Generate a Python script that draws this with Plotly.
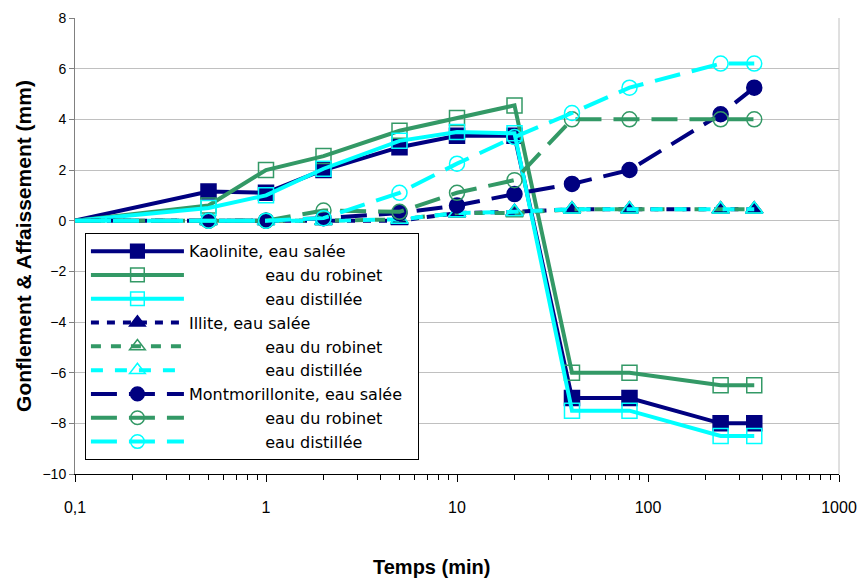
import plotly.graph_objects as go

# ---- data ----
temps = [0.1, 0.5, 1, 2, 5, 10, 20, 40, 80, 240, 360]

kao_salee = [0, 1.15, 1.1, 2.0, 2.9, 3.35, 3.35, -7.0, -7.0, -8.0, -8.0]
kao_robinet = [0, 0.6, 2.0, 2.55, 3.55, 4.05, 4.55, -6.0, -6.0, -6.5, -6.5]
kao_distillee = [0, 0.5, 1.0, 2.05, 3.15, 3.5, 3.45, -7.5, -7.5, -8.5, -8.5]

ill_salee = [0, 0, 0, 0, 0, 0.3, 0.35, 0.45, 0.45, 0.45, 0.45]
ill_robinet = [0, 0, 0, 0, 0.05, 0.3, 0.3, 0.45, 0.45, 0.45, 0.45]
ill_distillee = [0, 0, 0, 0, 0.05, 0.3, 0.35, 0.45, 0.45, 0.45, 0.45]

mont_salee = [0, 0, 0, 0.1, 0.3, 0.6, 1.05, 1.45, 2.0, 4.2, 5.25]
mont_robinet = [0, 0, 0, 0.4, 0.35, 1.1, 1.6, 4.0, 4.0, 4.0, 4.0]
mont_distillee = [0, 0, 0, 0.1, 1.1, 2.25, 3.3, 4.25, 5.25, 6.2, 6.2]

x_tickvals = [0.1, 1, 10, 100, 1000]
x_ticktext = ["0,1", "1", "10", "100", "1000"]
x_minor = [m * d for d in (0.1, 1, 10, 100) for m in range(2, 10)]

NAVY = "#000080"
GREEN = "#339966"
CYAN = "#00FFFF"
NB = "\u00a0"
IND = NB * 15
FONT = "Liberation Sans, Arial, sans-serif"
LEGFONT = "DejaVu Sans, sans-serif"

series = [
    ("Kaolinite, eau salée", kao_salee, NAVY, "square", "solid"),
    (IND + "eau du robinet", kao_robinet, GREEN, "square-open", "solid"),
    (IND + "eau distillée", kao_distillee, CYAN, "square-open", "solid"),
    ("Illite, eau salée", ill_salee, NAVY, "triangle-up", "8px,8px"),
    (IND + "eau du robinet", ill_robinet, GREEN, "triangle-up-open", "10px,10px"),
    (IND + "eau distillée", ill_distillee, CYAN, "triangle-up-open", "12px,12px"),
    ("Montmorillonite, eau salée" + NB * 2, mont_salee, NAVY, "circle", "26px,12px"),
    (IND + "eau du robinet", mont_robinet, GREEN, "circle-open", "26px,12px"),
    (IND + "eau distillée", mont_distillee, CYAN, "circle-open", "26px,12px"),
]

# no marker drawn at the starting point (0,1 ; 0)
sizes = [0] + [15] * (len(temps) - 1)

fig = go.Figure()
for name, ys, col, sym, dash in series:
    fig.add_trace(go.Scatter(
        x=temps, y=ys, name=name, mode="lines+markers",
        line=dict(color=col, width=4, dash=dash),
        marker=dict(symbol=sym, size=sizes, color=col, opacity=1,
                    line=dict(color=col, width=1.5)),
    ))

fig.update_layout(
    width=862, height=582,
    margin=dict(l=75, r=23, t=18, b=108),
    paper_bgcolor="white", plot_bgcolor="white",
    font=dict(family=FONT, size=14, color="black"),
    showlegend=True,
    legend=dict(
        x=0.013, y=0.528, xanchor="left", yanchor="top",
        bgcolor="white", bordercolor="black", borderwidth=1,
        font=dict(family=LEGFONT, size=16, color="black"),
        itemwidth=93, tracegroupgap=0,
    ),
    xaxis=dict(
        type="log", range=[-1, 3],
        tickmode="array", tickvals=x_tickvals, ticktext=x_ticktext,
        ticks="outside", ticklen=7, tickcolor="black",
        ticklabelstandoff=12,
        showline=True, linecolor="black", linewidth=1,
        showgrid=False, zeroline=False,
        tickfont=dict(size=16),
        minor=dict(tickmode="array", tickvals=x_minor, ticks="outside",
                   ticklen=5, tickcolor="black", showgrid=False),
        automargin=False,
    ),
    yaxis=dict(
        range=[-10, 8], dtick=2,
        ticks="outside", ticklen=5, tickcolor="#808080",
        showline=True, linecolor="#808080", linewidth=1,
        showgrid=True, gridcolor="#c0c0c0", gridwidth=1,
        zeroline=False,
        tickfont=dict(size=14),
        title=dict(text="<b>Gonflement & Affaissement (mm)</b>",
                   font=dict(size=21), standoff=5),
        automargin=False,
    ),
    annotations=[dict(text="<b>Temps (min)</b>", xref="paper", yref="paper",
                      x=0.466, y=-0.205, xanchor="center", yanchor="middle",
                      showarrow=False, font=dict(size=20, family=FONT))],
    shapes=[dict(type="line", xref="paper", yref="paper", x0=1, x1=1, y0=0, y1=1,
                 line=dict(color="#c0c0c0", width=1))],
)

fig.write_html("out.html", config={"displayModeBar": False},
               post_script="document.body.style.margin='0px';")
